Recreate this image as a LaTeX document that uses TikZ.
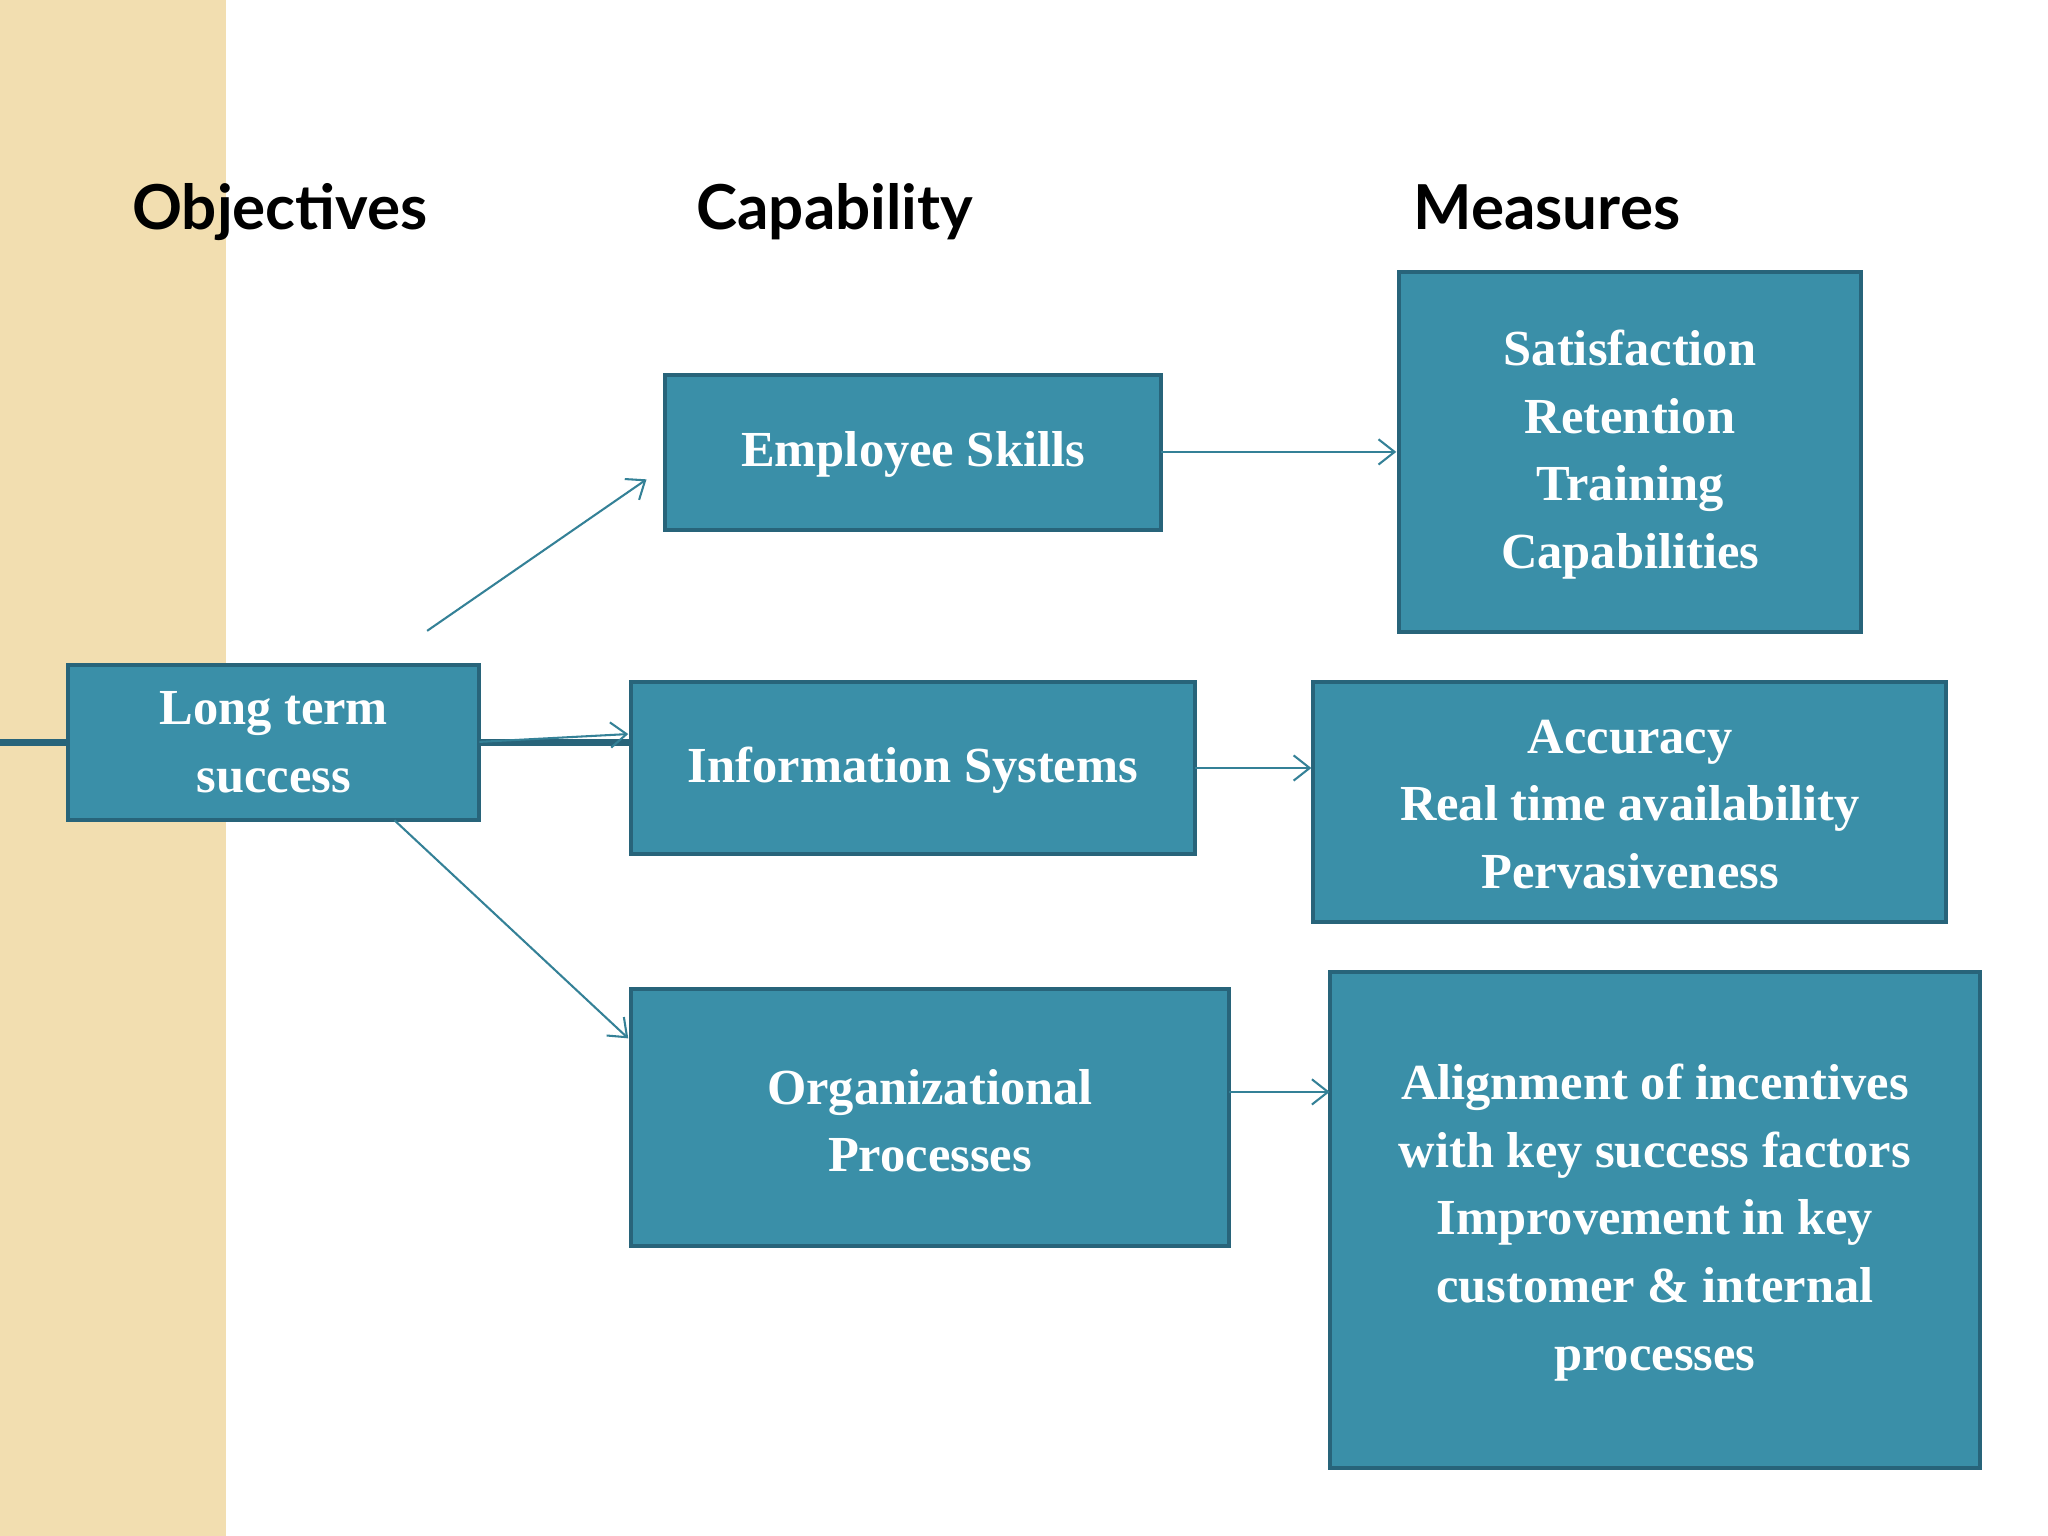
\documentclass[tikz,border=0pt]{standalone}
\usepackage{fontspec}
\setmainfont{Liberation Serif}
\newfontfamily\headfont{Lato}
\usetikzlibrary{arrows.meta}
\definecolor{boxfill}{HTML}{3A8FA8}
\definecolor{boxline}{HTML}{28647A}
\definecolor{stripe}{HTML}{F2DEB0}
\tikzset{
  px/.style={x=0.02cm,y=-0.02cm},
  box/.style={draw=boxline,line width=1.8pt,fill=boxfill,text=white,align=center,
    font=\bfseries\fontsize{22}{29.5}\selectfont,inner sep=0pt},
  head/.style={font=\headfont\bfseries\fontsize{27}{32}\selectfont,anchor=base west},
  conn/.style={draw=boxfill!90!black,line width=0.9pt,-{Straight Barb[length=7pt,width=11pt]}}
}
\begin{document}
\begin{tikzpicture}[px]
\useasboundingbox (0,0) rectangle (1568,1176);
\fill[white] (0,0) rectangle (1568,1176);
\fill[stripe] (0,0) rectangle (173,1176);
\node[head] (h1) at (95,176) {Objectives};
\node[head] (h2) at (527,176) {Capability};
\node[head] (h3) at (1076,176) {Measures};
\node[box,minimum width=315\pgflinewidth] (lts) at (209.5,568.5) {};
\draw[box] (52,509) rectangle (367,628);
\node[box,draw=none,fill=none] (ltst) at (209.5,568.5) {Long term\\success};
\draw[box] (509,287) rectangle (889,406);
\node[box,draw=none,fill=none] (es) at (699,348) {Employee Skills};
\draw[box] (483,522) rectangle (915,654);
\node[box,draw=none,fill=none] (is) at (699,590) {Information Systems};
\draw[box] (483,757) rectangle (941,954);
\node[box,draw=none,fill=none] (op) at (712,858) {Organizational\\Processes};
\draw[box] (1071,208) rectangle (1425,484);
\node[box,draw=none,fill=none] (m1) at (1248,348) {Satisfaction\\Retention\\Training\\Capabilities};
\draw[box] (1005,522) rectangle (1490,706);
\node[box,draw=none,fill=none] (m2) at (1248,616) {Accuracy\\Real time availability\\Pervasiveness};
\draw[box] (1018,744) rectangle (1516,1124);
\node[box,draw=none,fill=none] (m3) at (1267,936) {Alignment of incentives\\with key success factors\\Improvement in key\\customer \& internal\\processes};
\coordinate (a1s) at (327,483); \coordinate (a1e) at (495,367);
\coordinate (a2s) at (367,568); \coordinate (a2e) at (481,562);
\coordinate (a3s) at (302,628); \coordinate (a3e) at (481,795);
\coordinate (b1s) at (889,346); \coordinate (b1e) at (1069,346);
\coordinate (b2s) at (915,588); \coordinate (b2e) at (1004,588);
\coordinate (b3s) at (941,836); \coordinate (b3e) at (1018,836);
\draw[conn] (a1s) -- (a1e);
\draw[conn] (a2s) -- (a2e);
\draw[conn] (a3s) -- (a3e);
\draw[conn] (b1s) -- (b1e);
\draw[conn] (b2s) -- (b2e);
\draw[conn] (b3s) -- (b3e);
\end{tikzpicture}
\end{document}
